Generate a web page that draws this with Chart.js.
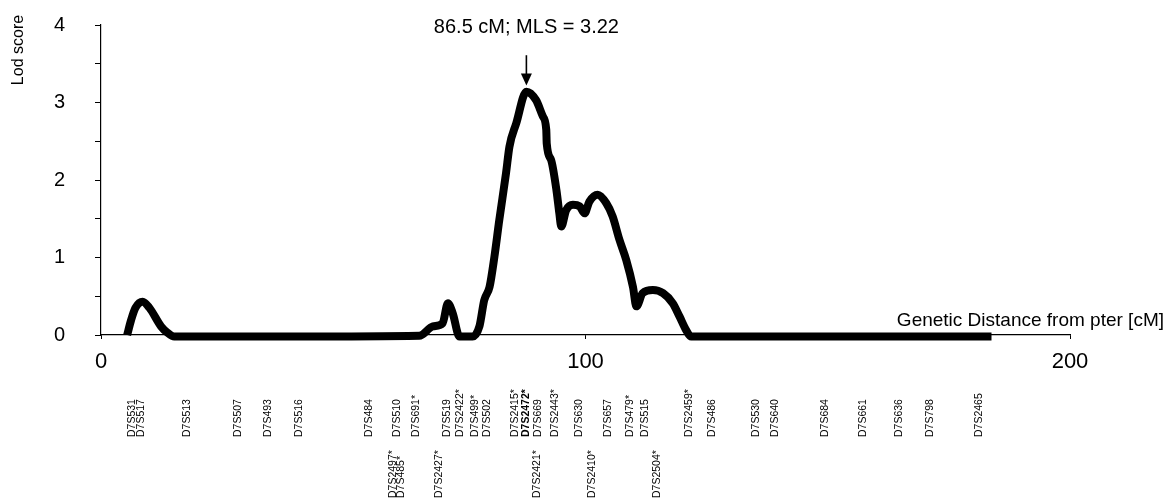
<!DOCTYPE html>
<html>
<head>
<meta charset="utf-8">
<script src="https://cdn.jsdelivr.net/npm/chart.js@4"></script>
<style>
  body { margin: 0; background: #fff; }
  #wrap { width: 1167px; height: 502px; }
</style>
</head>
<body>
<div id="wrap"><canvas id="lodChart" width="1167" height="502"></canvas></div>
<script>
// Multipoint LOD curve along chromosome 7 (cM from pter)
const positionsCM = [
    5.4, 6.2, 7.1, 8.6, 10.0, 12.4, 13.7, 15.1,
    40.0, 65.7, 68.5, 70.5, 71.6, 72.6, 74.0, 76.7,
    78.1, 79.1, 80.2, 81.2, 82.2, 83.6, 84.3, 85.7, 87.8,
    89.8, 91.2, 91.9, 92.0, 92.9, 94.0, 94.6, 95.0, 96.0,
    97.4, 98.8, 99.8, 100.8, 102.5, 104.3, 105.6, 107.0,
    108.4, 109.8, 110.5, 111.8, 113.9, 116.0, 118.0, 119.4,
    120.8, 121.8, 150.0, 183.8
];
const lodScores = [
    0.0, 0.19, 0.35, 0.43, 0.35, 0.11, 0.03, -0.02,
    -0.02, -0.01, 0.11, 0.15, 0.41, 0.28, -0.02, -0.02,
    0.11, 0.45, 0.62, 1.01, 1.48, 2.09, 2.43, 2.73, 3.14,
    3.03, 2.82, 2.65, 2.47, 2.26, 1.87, 1.57, 1.40, 1.61,
    1.68, 1.66, 1.57, 1.72, 1.81, 1.70, 1.53, 1.23,
    0.97, 0.62, 0.37, 0.54, 0.58, 0.54, 0.41, 0.24,
    0.06, -0.02, -0.02, -0.02
];

// Marker names and their map positions (two label rows)
const markersRow1 = [
    'D7S531', 'D7S517', 'D7S513', 'D7S507', 'D7S493', 'D7S516', 'D7S484',
    'D7S510', 'D7S691*', 'D7S519', 'D7S2422*', 'D7S499*', 'D7S502',
    'D7S2415*', 'D7S2472*', 'D7S669', 'D7S2443*', 'D7S630', 'D7S657',
    'D7S479*', 'D7S515', 'D7S2459*', 'D7S486', 'D7S530', 'D7S640',
    'D7S684', 'D7S661', 'D7S636', 'D7S798', 'D7S2465'
];
const markersRow1CM = [
    6.5, 8.3, 17.7, 28.4, 34.4, 40.9, 55.4,
    61.2, 65.0, 71.4, 74.1, 77.2, 79.6,
    85.4, 87.8, 90.2, 93.7, 98.6, 104.7,
    109.2, 112.3, 121.3, 126.1, 135.2, 139.2,
    149.4, 157.3, 164.8, 171.2, 181.2
];
const markersRow2 = ['D7S2497*', 'D7S485*', 'D7S2427*', 'D7S2421*', 'D7S2410*', 'D7S2504*'];
const markersRow2CM = [60.2, 61.9, 69.7, 90.1, 101.3, 114.7];
const boldMarker = 'D7S2472*';

const yTicks = [0, 1, 2, 3, 4];
const xTicks = [0, 100, 200];

const peakCM = 87.8;
const peakLabel = '86.5 cM; MLS = 3.22';
const mls = 3.22;

const FONT = "'Liberation Sans', Arial, sans-serif";

const annotations = {
    id: 'annotations',
    afterDraw(chart) {
        const ctx = chart.ctx;
        const xs = chart.scales.x;
        const ys = chart.scales.y;
        const area = chart.chartArea;
        ctx.save();
        ctx.fillStyle = '#000';
        ctx.strokeStyle = '#000';

        // y axis title
        ctx.save();
        ctx.translate(19, 50);
        ctx.rotate(-Math.PI / 2);
        ctx.font = '16px ' + FONT;
        ctx.textAlign = 'center';
        ctx.textBaseline = 'middle';
        ctx.fillText('Lod score', 0, 0);
        ctx.restore();

        // x axis title, sitting above the axis at the right
        ctx.font = '19px ' + FONT;
        ctx.textAlign = 'right';
        ctx.textBaseline = 'alphabetic';
        ctx.fillText('Genetic Distance from pter [cM]', 1164, area.bottom - 9);

        // peak label and arrow
        const px = xs.getPixelForValue(peakCM);
        ctx.font = '20px ' + FONT;
        ctx.textAlign = 'center';
        ctx.fillText(peakLabel, px, 33);
        const tipY = ys.getPixelForValue(mls);
        const tailY = ys.getPixelForValue(3.61);
        ctx.lineWidth = 1.6;
        ctx.beginPath();
        ctx.moveTo(px, tailY);
        ctx.lineTo(px, tipY - 10);
        ctx.stroke();
        ctx.beginPath();
        ctx.moveTo(px - 5.5, tipY - 12);
        ctx.lineTo(px + 5.5, tipY - 12);
        ctx.lineTo(px, tipY);
        ctx.closePath();
        ctx.fill();

        // marker labels, rotated
        const drawRow = (names, cms, baseY) => {
            names.forEach((name, i) => {
                const x = xs.getPixelForValue(cms[i]);
                ctx.save();
                ctx.translate(x, baseY);
                ctx.rotate(-Math.PI / 2);
                ctx.font = (name === boldMarker ? 'bold ' : '') + '10.5px ' + FONT;
                ctx.textAlign = 'left';
                ctx.textBaseline = 'middle';
                ctx.fillText(name, 0, 0);
                ctx.restore();
            });
        };
        drawRow(markersRow1, markersRow1CM, area.bottom + 102);
        drawRow(markersRow2, markersRow2CM, area.bottom + 163);
        ctx.restore();
    }
};

const points = positionsCM.map((x, i) => ({ x: x, y: lodScores[i] }));

new Chart(document.getElementById('lodChart'), {
    type: 'line',
    data: {
        datasets: [{
            data: points,
            borderColor: '#000',
            borderWidth: 8,
            pointRadius: 0,
            fill: false,
            cubicInterpolationMode: 'monotone',
            borderJoinStyle: 'round',
            borderCapStyle: 'butt',
            clip: false
        }]
    },
    options: {
        responsive: false,
        animation: false,
        devicePixelRatio: 1,
        layout: { padding: { top: 25, right: 97, left: 0, bottom: 0 } },
        plugins: {
            legend: { display: false },
            tooltip: { enabled: false }
        },
        scales: {
            x: {
                type: 'linear',
                min: 0,
                max: 200,
                afterFit: s => { s.height = 167; },
                afterBuildTicks: s => { s.ticks = xTicks.map(v => ({ value: v })); },
                ticks: {
                    color: '#000',
                    font: { family: FONT, size: 22 },
                    padding: 10,
                    maxRotation: 0
                },
                grid: {
                    drawOnChartArea: false,
                    drawTicks: true,
                    tickLength: 4,
                    color: '#000'
                },
                border: { color: '#000', width: 1.2 }
            },
            y: {
                min: 0,
                max: 4,
                afterFit: s => {
                    s.width = 101;
                    // the big label padding should not push the plot down
                    s.paddingTop = 12;
                    s.paddingBottom = 12;
                },
                ticks: {
                    stepSize: 0.5,
                    color: '#000',
                    font: { family: FONT, size: 20 },
                    padding: 30,
                    callback: v => (yTicks.includes(v) ? String(v) : '')
                },
                grid: {
                    drawOnChartArea: false,
                    drawTicks: true,
                    tickLength: 6,
                    color: '#000'
                },
                border: { color: '#000', width: 1.2 }
            }
        }
    },
    plugins: [annotations]
});
</script>
</body>
</html>
